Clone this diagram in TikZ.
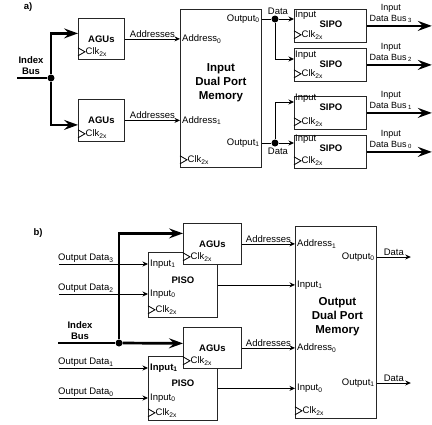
\documentclass[tikz,border=0pt]{standalone}
\usepackage{fontspec}
\setmainfont{Liberation Sans}
\usetikzlibrary{arrows.meta,positioning,calc}
\newcommand{\lblfont}{\fontsize{9.5}{11}\selectfont}
\newcommand{\memfont}{\fontsize{11.5}{14}\selectfont\bfseries}

\begin{document}
\begin{tikzpicture}[x=1pt,y=-1pt,
    blk/.style={draw=black!85,line width=0.8pt,fill=white,inner sep=0pt,anchor=north west},
    lbl/.style={font=\lblfont,inner sep=1pt},
    ttl/.style={font=\lblfont\bfseries,inner sep=1pt,align=center},
    memttl/.style={font=\memfont,align=center,inner sep=1pt},
    wire/.style={line width=0.8pt},
    sig/.style={wire,-{Stealth[length=5.5pt,width=5pt]}},
    busline/.style={line width=2.7pt},
    bus/.style={busline,-{Stealth[length=14pt,width=10pt,inset=5pt]}},
    jdot/.style={circle,fill,inner sep=0pt,minimum size=7pt}]
  \useasboundingbox (0,0) rectangle (432,424);

  % a) input side
  \node[ttl] (la) at (28,7) {a)};
  \node[blk,minimum width=46pt,minimum height=41pt] (agua0) at (78,18) {};
  \node[blk,minimum width=46pt,minimum height=42pt] (agua1) at (78,99) {};
  \node[blk,minimum width=81pt,minimum height=158pt] (mema) at (180,9) {};
  \node[memttl] (mema-t) at ([yshift=6pt]mema.center) {Input\\Dual Port\\Memory};

  \coordinate (idxa) at (17,78);
  \node[jdot] (jna) at (51,78) {};
  \node[ttl] (idxa-l) at (31,66) {Index\\Bus};
  \draw[busline] (idxa) -- (jna);
  \draw[bus] (jna) |- ([yshift=5.5pt]agua0.west);
  \draw[bus] (jna) |- ([yshift=-4.5pt]agua1.west);

  \foreach \g/\i in {agua0/0,agua1/1}{
    \draw[sig] (\g.east) -- (mema.west |- \g.east) node[lbl,midway,above] (adra\i) {Addresses};
    \node[lbl,anchor=west,xshift=1pt] (mema-a\i) at (mema.west |- \g.east) {Address\textsubscript{\i}};
  }

  \foreach \s/\yt/\ya in {3/9/10,2/48/11,1/96/6,0/135/8}{
    \node[blk,minimum width=72pt,minimum height=33pt] (sipo\s) at (294,\yt) {};
    \coordinate (sipo\s-in) at (294,\yt+\ya);
    \node[lbl,anchor=west,yshift=3.5pt] (sipo\s-i) at (sipo\s-in) {Input};
    \node[ttl] (sipo\s-t) at ([xshift=37pt,yshift=-5pt]sipo\s-in) {SIPO};
    \draw[bus] (sipo\s.east) -- ++(65,0);
    \node[lbl,font=\fontsize{9}{11}\selectfont,align=center,anchor=south] (bus\s-l) at ([xshift=24pt,yshift=2pt]sipo\s.east) {Input\\Data Bus\,\textsubscript{\s}};
  }

  \node[jdot] (dota0) at (275,19) {};
  \node[jdot] (dota1) at (275,143) {};
  \node[lbl,anchor=east,xshift=-1pt] (mema-o0) at (mema.east |- dota0) {Output\textsubscript{0}};
  \node[lbl,anchor=east,xshift=-1pt] (mema-o1) at (mema.east |- dota1) {Output\textsubscript{1}};
  \node[lbl,anchor=south] (data0) at ([xshift=3pt]dota0.north) {Data};
  \node[lbl,anchor=north] (data1) at ([xshift=3pt]dota1.south) {Data};
  \draw[wire] (mema.east |- dota0) -- (dota0);
  \draw[sig] (dota0) -- (sipo3-in);
  \draw[sig] (dota0) |- (sipo2-in);
  \draw[wire] (mema.east |- dota1) -- (dota1);
  \draw[sig] (dota1) -- (sipo0-in);
  \draw[sig] (dota1) |- (sipo1-in);

  % b) output side
  \node[ttl] (lb) at (38,233) {b)};
  \node[blk,minimum width=69pt,minimum height=65pt] (pisob1) at (148,252) {};
  \node[blk,minimum width=69pt,minimum height=64pt] (pisob0) at (148,356) {};
  \node[blk,minimum width=58pt,minimum height=41pt] (agub1) at (183,223) {};
  \node[blk,minimum width=58pt,minimum height=41pt] (agub0) at (183,327) {};
  \node[blk,minimum width=81pt,minimum height=192pt] (memb) at (295,226) {};
  \node[memttl] (memb-t) at ([xshift=1.5pt,yshift=6pt]memb.center) {Output\\Dual Port\\Memory};
  \foreach \p in {pisob0,pisob1} \node[ttl] (\p-t) at ([yshift=5pt]\p.center) {PISO};
  \foreach \g in {agua0,agua1,agub0,agub1} \node[ttl] (\g-t) at (\g) {AGUs};

  \foreach \n/\y/\p/\txt in {3/264/pisob1/Input\textsubscript{1},
      2/294/pisob1/Input\textsubscript{0},
      1/368/pisob0/\textbf{Input\textsubscript{1}},
      0/398/pisob0/Input\textsubscript{0}}{
    \coordinate (od\n) at (59,\y);
    \node[lbl,anchor=west] (in\n) at (149,\y) {\txt};
    \node[lbl,anchor=south west,xshift=-2pt] (od\n-l) at (od\n) {Output Data\textsubscript{\n}};
    \draw[sig] (od\n) -- (\p.west |- od\n);
  }

  \coordinate (idxb) at (58,343);
  \node[jdot] (jnb) at (119,343) {};
  \node[ttl] (idxb-l) at (80,331) {Index\\Bus};
  \draw[busline] (idxb) -- (jnb);
  \draw[bus] (jnb) -- ([yshift=4.5pt]agub0.west);
  \draw[bus] (jnb) |- ([yshift=10.5pt]agub1.west);

  \foreach \g/\i in {agub1/1,agub0/0}{
    \draw[sig] (\g.east) -- (memb.west |- \g.east) node[lbl,midway,above] (adrb\i) {Addresses};
    \node[lbl,anchor=west,xshift=1pt] (memb-a\i) at (memb.west |- \g.east) {Address\textsubscript{\i}};
  }
  \foreach \p/\i in {pisob1/1,pisob0/0}{
    \draw[sig] (\p.east) -- (memb.west |- \p.east);
    \node[lbl,anchor=west,xshift=1pt] (memb-i\i) at (memb.west |- \p.east) {Input\textsubscript{\i}};
  }
  \node[lbl,anchor=east,xshift=-1pt] (memb-o0) at (memb.east |- 0,257) {Output\textsubscript{0}};
  \node[lbl,anchor=east,xshift=-1pt] (memb-o1) at (memb.east |- 0,383) {Output\textsubscript{1}};
  \draw[sig] (memb.east |- memb-o0) -- ++(34,0) node[lbl,midway,above] (datb0) {Data};
  \draw[sig] (memb.east |- memb-o1) -- ++(34,0) node[lbl,midway,above] (datb1) {Data};

  % clock inputs
  \foreach \b in {agua0,agua1,mema,sipo0,sipo1,sipo2,sipo3,pisob0,pisob1,agub0,agub1,memb}{
    \draw[wire] ([yshift=12pt]\b.south west) -- ([xshift=7pt,yshift=8pt]\b.south west) -- ([yshift=4pt]\b.south west);
    \node[lbl,anchor=west,inner sep=0.5pt] (\b-clk) at ([xshift=7pt,yshift=8pt]\b.south west) {Clk\textsubscript{2x}};
  }
\end{tikzpicture}
\end{document}
